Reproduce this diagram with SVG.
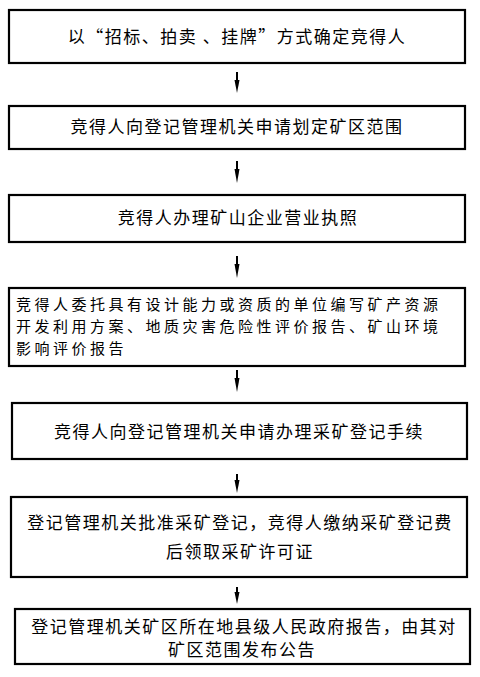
<svg xmlns="http://www.w3.org/2000/svg" width="480" height="677" viewBox="0 0 480 677">
<defs>
<style>
.box{fill:#fff;stroke:#000;stroke-width:2.2}
.t{font-family:"Noto Sans CJK SC","Noto Sans CJK JP",sans-serif;font-size:17px;fill:#000;letter-spacing:1.5px}
.s{font-size:15px;letter-spacing:3.5px}
.c{text-anchor:middle}
.arr{stroke:#000;stroke-width:2;fill:none}
.head{fill:#000}
</style>
</defs>
<rect width="480" height="677" fill="#fff"/>
<g id="connectors">
<line class="arr" x1="237" y1="72" x2="237" y2="84"/><polygon class="head" points="234.5,80 239.5,80 237,93"/>
<line class="arr" x1="237" y1="161" x2="237" y2="173"/><polygon class="head" points="234.5,169 239.5,169 237,183"/>
<line class="arr" x1="237" y1="256" x2="237" y2="268"/><polygon class="head" points="234.5,264 239.5,264 237,278"/>
<line class="arr" x1="237" y1="370" x2="237" y2="382"/><polygon class="head" points="234.5,378 239.5,378 237,392"/>
<line class="arr" x1="237" y1="474" x2="237" y2="484"/><polygon class="head" points="234.5,480 239.5,480 237,493"/>
<line class="arr" x1="237" y1="587" x2="237" y2="596"/><polygon class="head" points="234.5,592 239.5,592 237,604"/>
</g>
<g id="n1"><rect class="box" x="9" y="10" width="456" height="53"/>
<text class="t c" x="237" y="43">以“招标、拍卖 、挂牌”方式确定竞得人</text></g>
<g id="n2"><rect class="box" x="9" y="106" width="456" height="43"/>
<text class="t c" x="237" y="133">竞得人向登记管理机关申请划定矿区范围</text></g>
<g id="n3"><rect class="box" x="9" y="195" width="456" height="47"/>
<text class="t c" x="238" y="224">竞得人办理矿山企业营业执照</text></g>
<g id="n4"><rect class="box" x="9" y="288" width="456" height="78"/>
<text class="t s" x="16" y="310">竞得人委托具有设计能力或资质的单位编写矿产资源</text>
<text class="t s" x="16" y="332">开发利用方案、地质灾害危险性评价报告、矿山环境</text>
<text class="t s" x="16" y="354">影响评价报告</text></g>
<g id="n5"><rect class="box" x="12" y="403" width="455" height="56"/>
<text class="t c" x="239" y="438">竞得人向登记管理机关申请办理采矿登记手续</text></g>
<g id="n6"><rect class="box" x="11" y="497" width="456" height="80"/>
<text class="t c" x="240" y="529">登记管理机关批准采矿登记，竞得人缴纳采矿登记费</text>
<text class="t c" x="240" y="558">后领取采矿许可证</text></g>
<g id="n7"><rect class="box" x="15" y="609" width="455" height="55"/>
<text class="t c" x="244" y="633">登记管理机关矿区所在地县级人民政府报告，由其对</text>
<text class="t c" x="242" y="656">矿区范围发布公告</text></g>
</svg>
